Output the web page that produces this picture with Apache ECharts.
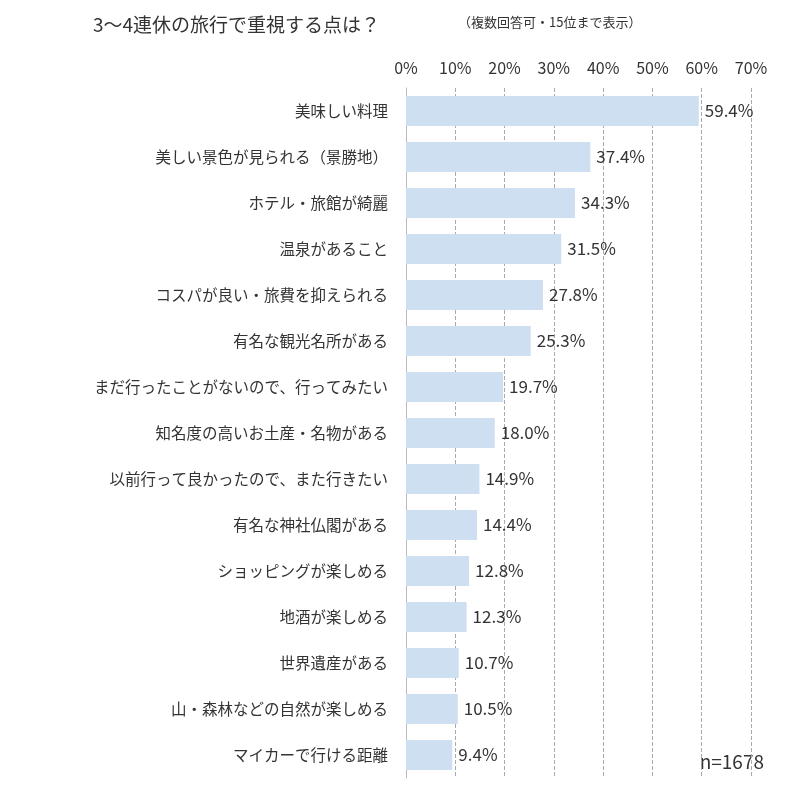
<!DOCTYPE html>
<html><head><meta charset="utf-8">
<script src="https://cdn.jsdelivr.net/npm/echarts@6/dist/echarts.min.js"></script>
<style>html,body{margin:0;background:#fff}#c{width:786px;height:800px}</style></head>
<body><div id="c"></div>
<script>
const categories=["美味しい料理","美しい景色が見られる（景勝地）","ホテル・旅館が綺麗","温泉があること","コスパが良い・旅費を抑えられる","有名な観光名所がある","まだ行ったことがないので、行ってみたい","知名度の高いお土産・名物がある","以前行って良かったので、また行きたい","有名な神社仏閣がある","ショッピングが楽しめる","地酒が楽しめる","世界遺産がある","山・森林などの自然が楽しめる","マイカーで行ける距離"];
const values=[59.4,37.4,34.3,31.5,27.8,25.3,19.7,18.0,14.9,14.4,12.8,12.3,10.7,10.5,9.4];
const F="'Noto Sans CJK JP', sans-serif";
const chart=echarts.init(document.getElementById('c'));
chart.setOption({
 animation:false,
 title:{text:"3～4連休の旅行で重視する点は？",left:88,top:10,textStyle:{fontFamily:F,fontSize:19,fontWeight:'normal',color:'#333'}},
 graphic:[{type:'text',left:458,top:16,style:{text:"（複数回答可・15位まで表示）",font:"13px "+F,fill:'#333'}},
  {type:'text',right:22,top:752,style:{text:"n=1678",font:"19px "+F,fill:'#333'}}],
 grid:{left:406,right:35,top:88,bottom:22},
 xAxis:{type:'value',position:'top',min:0,max:70,interval:10,
  axisLabel:{formatter:'{value}%',fontFamily:F,fontSize:16,color:'#333',margin:12},
  axisLine:{show:false},axisTick:{show:false},
  splitLine:{lineStyle:{type:'dashed',color:'#aaa'}}},
 yAxis:{type:'category',inverse:true,data:categories,
  axisLabel:{fontFamily:F,fontSize:15.5,color:'#333',margin:18},
  axisLine:{lineStyle:{color:'#bbb'}},axisTick:{show:false}},
 series:[{type:'bar',data:values,barWidth:30,itemStyle:{color:'#cddff0'},
  label:{show:true,position:'right',formatter:p=>p.value.toFixed(1)+'%',fontFamily:F,fontSize:17,color:'#333',distance:6}}]
});
</script></body></html>
